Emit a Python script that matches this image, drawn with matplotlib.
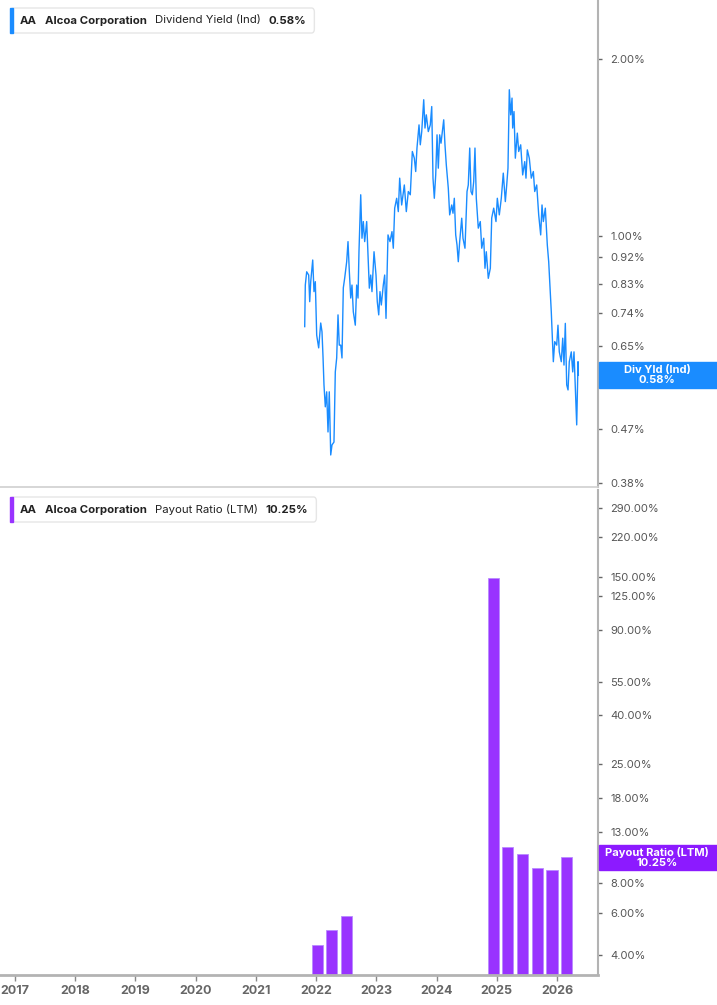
import matplotlib
matplotlib.use("Agg")
import matplotlib.pyplot as plt
from matplotlib.ticker import NullLocator
from matplotlib.patches import FancyBboxPatch, Rectangle

plt.rcParams['font.family'] = ['Inter', 'DejaVu Sans']

# Dividend yield (indicated), %
yield_dates = [
    2021.810, 2021.820, 2021.843, 2021.876, 2021.893, 2021.910, 2021.943, 2021.964, 2021.986, 2022.009,
    2022.042, 2022.076, 2022.097, 2022.114, 2022.130, 2022.152, 2022.175, 2022.197, 2022.218, 2022.242,
    2022.263, 2022.296, 2022.318, 2022.341, 2022.363, 2022.384, 2022.408, 2022.429, 2022.451, 2022.474,
    2022.507, 2022.529, 2022.551, 2022.574, 2022.595, 2022.617, 2022.650, 2022.673, 2022.695, 2022.711,
    2022.740, 2022.761, 2022.783, 2022.806, 2022.839, 2022.861, 2022.883, 2022.906, 2022.927, 2022.961,
    2022.994, 2023.015, 2023.039, 2023.060, 2023.082, 2023.115, 2023.138, 2023.160, 2023.193, 2023.226,
    2023.259, 2023.281, 2023.304, 2023.337, 2023.364, 2023.387, 2023.420, 2023.464, 2023.497, 2023.530,
    2023.563, 2023.597, 2023.630, 2023.653, 2023.674, 2023.708, 2023.729, 2023.753, 2023.786, 2023.807,
    2023.829, 2023.862, 2023.895, 2023.919, 2023.940, 2023.962, 2023.985, 2024.007, 2024.028, 2024.051,
    2024.073, 2024.118, 2024.139, 2024.161, 2024.194, 2024.217, 2024.251, 2024.272, 2024.294, 2024.317,
    2024.339, 2024.360, 2024.383, 2024.417, 2024.438, 2024.471, 2024.505, 2024.526, 2024.550, 2024.571,
    2024.593, 2024.616, 2024.637, 2024.659, 2024.692, 2024.725, 2024.749, 2024.782, 2024.803, 2024.825,
    2024.858, 2024.892, 2024.915, 2024.948, 2024.986, 2025.008, 2025.041, 2025.074, 2025.107, 2025.141,
    2025.164, 2025.185, 2025.207, 2025.230, 2025.252, 2025.263, 2025.285, 2025.307, 2025.340, 2025.363,
    2025.396, 2025.429, 2025.463, 2025.484, 2025.506, 2025.539, 2025.572, 2025.606, 2025.629, 2025.662,
    2025.695, 2025.728, 2025.750, 2025.772, 2025.805, 2025.838, 2025.861, 2025.883, 2025.904, 2025.938,
    2025.961, 2025.994, 2026.015, 2026.037, 2026.070, 2026.094, 2026.115, 2026.137, 2026.160, 2026.182,
    2026.203, 2026.236, 2026.260, 2026.281, 2026.303, 2026.326, 2026.348, 2026.353,
]
yield_values = [
    0.701, 0.825, 0.869, 0.858, 0.773, 0.836, 0.910, 0.804, 0.836, 0.678,
    0.645, 0.711, 0.687, 0.623, 0.558, 0.512, 0.543, 0.464, 0.543, 0.424,
    0.441, 0.446, 0.587, 0.620, 0.734, 0.652, 0.652, 0.620, 0.816, 0.848,
    0.904, 0.978, 0.869, 0.784, 0.825, 0.743, 0.705, 0.825, 0.784, 0.940,
    1.175, 0.991, 1.058, 0.978, 1.058, 0.928, 0.815, 0.858, 0.804, 0.940,
    0.858, 0.773, 0.734, 0.804, 0.763, 0.825, 0.858, 0.724, 1.004, 0.978,
    1.017, 0.953, 1.115, 1.159, 1.100, 1.254, 1.129, 1.221, 1.100, 1.190,
    1.175, 1.392, 1.356, 1.287, 1.411, 1.545, 1.429, 1.505, 1.705, 1.526,
    1.607, 1.505, 1.545, 1.660, 1.254, 1.159, 1.270, 1.486, 1.304, 1.486,
    1.438, 1.576, 1.429, 1.321, 1.206, 1.086, 1.129, 1.093, 1.159, 1.004,
    0.965, 0.904, 0.978, 1.072, 0.991, 0.953, 1.190, 1.221, 1.411, 1.190,
    1.175, 1.237, 1.411, 1.159, 1.031, 1.058, 0.953, 0.991, 0.881, 0.940,
    0.847, 0.881, 1.073, 1.115, 1.058, 1.159, 1.086, 1.159, 1.279, 1.144,
    1.221, 1.304, 1.773, 1.607, 1.716, 1.526, 1.628, 1.356, 1.496, 1.392,
    1.429, 1.270, 1.338, 1.254, 1.401, 1.356, 1.254, 1.287, 1.190, 1.221,
    1.086, 1.004, 1.129, 1.058, 1.115, 0.965, 0.904, 0.815, 0.743, 0.611,
    0.661, 0.652, 0.705, 0.635, 0.611, 0.670, 0.603, 0.710, 0.558, 0.547,
    0.611, 0.635, 0.587, 0.635, 0.550, 0.477, 0.611, 0.580,
]

# Payout ratio (LTM), % -- quarterly bars
payout_dates = [2022.022, 2022.263, 2022.504, 2024.948, 2025.182, 2025.426, 2025.672, 2025.916, 2026.157]
payout_values = [4.40, 5.10, 5.80, 148.0, 11.26, 10.50, 9.21, 9.03, 10.25]

yield_ticks = [0.38, 0.47, 0.56, 0.65, 0.74, 0.83, 0.92, 1.00, 2.00]
payout_ticks = [4, 6, 8, 13, 18, 25, 40, 55, 90, 125, 150, 220, 290]
years = list(range(2017, 2027))

BLUE = "#1a8cff"
PURPLE = "#9933ff"
LABEL_PURPLE = "#8c1aff"
GRID = "#b3b3b3"
TXT = "#555555"

W, H = 717, 1005
fig = plt.figure(figsize=(W / 100, H / 100), dpi=100)


def fx(px):
    return px / W


def fy(py):
    return 1 - py / H


xmin, xmax = 2016.751, 2016.751 + 598 / 60.23

ax1 = fig.add_axes([0, fy(487), fx(598), 487 / H])
ax2 = fig.add_axes([0, fy(975), fx(598), (975 - 490) / H])

# top panel: dividend yield
ax1.plot(yield_dates, yield_values, color=BLUE, lw=1.0)
ax1.set_yscale("log")
ax1.set_ylim(0.374, 2.52)
ax1.set_xlim(xmin, xmax)

# bottom panel: payout ratio (bars start below the visible range)
base = 1.0
ax2.bar(payout_dates, [v - base for v in payout_values], width=0.183, bottom=base,
        color=PURPLE, edgecolor="#b98aff", linewidth=0.6)
ax2.set_yscale("log")
ax2.set_ylim(3.30, 345)
ax2.set_xlim(xmin, xmax)

for ax, ticks in [(ax1, yield_ticks), (ax2, payout_ticks)]:
    ax.yaxis.tick_right()
    ax.set_yticks(ticks)
    ax.set_yticklabels(["{:.2f}%".format(t) for t in ticks])
    ax.yaxis.set_minor_locator(NullLocator())
    ax.tick_params(axis="y", which="major", length=3, width=1, color="#666666",
                   labelsize=8, labelcolor=TXT, pad=6)
    for s in ["top", "left"]:
        ax.spines[s].set_visible(False)
    ax.spines["right"].set_color(GRID)
    ax.spines["right"].set_linewidth(1.5)

ax1.spines["bottom"].set_color("#d0d0d0")
ax1.spines["bottom"].set_linewidth(1.2)
ax1.set_xticks([])

ax2.spines["bottom"].set_color(GRID)
ax2.spines["bottom"].set_linewidth(2)
ax2.set_xticks(years)
ax2.set_xticklabels([str(y) for y in years], fontweight="bold")
ax2.xaxis.set_minor_locator(NullLocator())
ax2.tick_params(axis="x", length=4, width=1, color="#888888", labelsize=9,
                labelcolor="#666666", pad=3)

renderer = fig.canvas.get_renderer()


def legend_box(y0, color, parts):
    # lay the pieces out one after another, 8 px apart
    px = 20
    for txt, weight in parts:
        t = fig.text(fx(px), fy(y0 + 12.5), txt, fontsize=8.2, fontweight=weight,
                     color="#222222", va="center", ha="left", zorder=5)
        bb = t.get_window_extent(renderer)
        px = bb.x1 + 8
    right = px
    box = FancyBboxPatch((fx(11), fy(y0 + 25)), fx(right - 11), 25 / H,
                         boxstyle="round,pad=0,rounding_size=0.004",
                         transform=fig.transFigure, facecolor="white",
                         edgecolor="#e6e6e6", linewidth=1, zorder=4)
    fig.patches.append(box)
    strip = Rectangle((fx(10), fy(y0 + 25)), fx(3), 25 / H,
                      transform=fig.transFigure, color=color, zorder=4)
    fig.patches.append(strip)


legend_box(8, BLUE, [("AA", "bold"), ("Alcoa Corporation", "bold"),
                     ("Dividend Yield (Ind)", "normal"), ("0.58%", "bold")])
legend_box(497, PURPLE, [("AA", "bold"), ("Alcoa Corporation", "bold"),
                         ("Payout Ratio (LTM)", "normal"), ("10.25%", "bold")])


def value_tag(y0, y1, color, text):
    r = Rectangle((fx(599), fy(y1)), fx(W - 599), (y1 - y0) / H,
                  transform=fig.transFigure, color=color, zorder=4)
    fig.patches.append(r)
    fig.text(fx(657), fy((y0 + y1) / 2), text, fontsize=8, fontweight="bold",
             color="white", ha="center", va="center", linespacing=1.0, zorder=5)


value_tag(362, 388, BLUE, "Div Yld (Ind)\n0.58%")
value_tag(845, 870, LABEL_PURPLE, "Payout Ratio (LTM)\n10.25%")

fig.savefig("out.png", dpi=100)
